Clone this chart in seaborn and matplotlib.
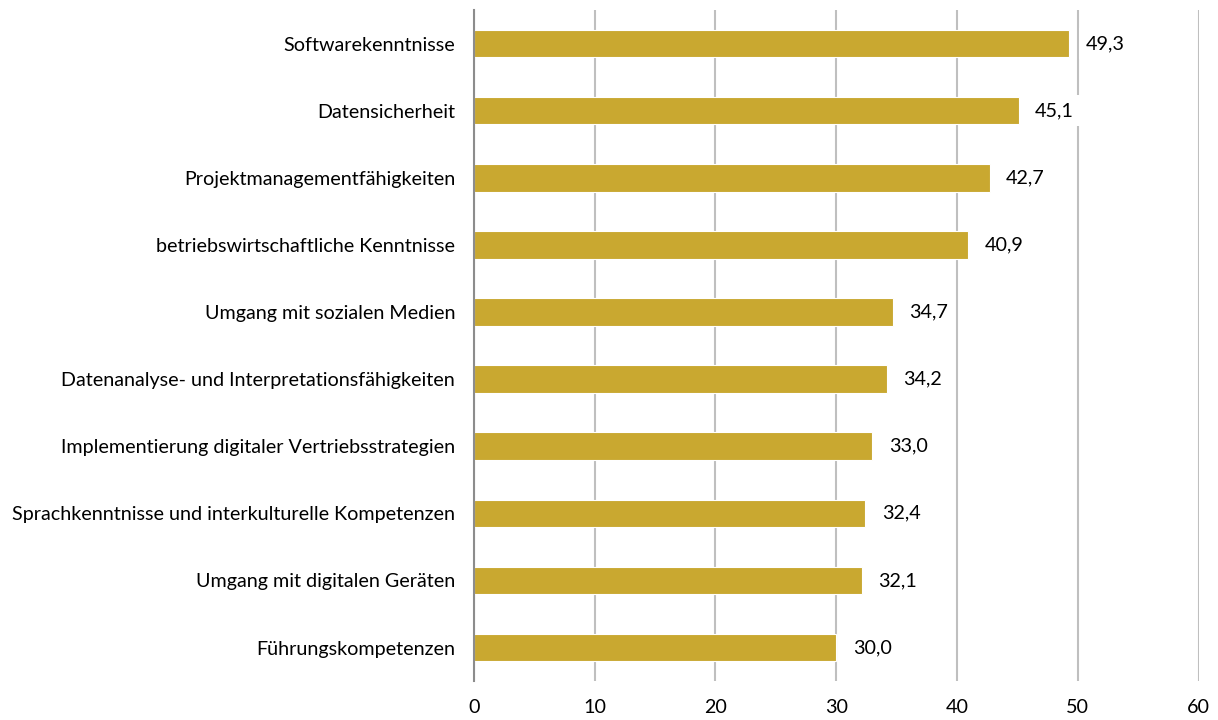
import matplotlib
matplotlib.use("Agg")
from matplotlib import pyplot as plt
import seaborn as sns
import pandas as pd

categories = [
    "Softwarekenntnisse",
    "Datensicherheit",
    "Projektmanagementfähigkeiten",
    "betriebswirtschaftliche Kenntnisse",
    "Umgang mit sozialen Medien",
    "Datenanalyse- und Interpretationsfähigkeiten",
    "Implementierung digitaler Vertriebsstrategien",
    "Sprachkenntnisse und interkulturelle Kompetenzen",
    "Umgang mit digitalen Geräten",
    "Führungskompetenzen",
]
values = [49.3, 45.1, 42.7, 40.9, 34.7, 34.2, 33.0, 32.4, 32.1, 30.0]
x_ticks = [0, 10, 20, 30, 40, 50, 60]

df = pd.DataFrame({"skill": categories, "share": values})

sns.set_theme(style="white")
plt.rcParams["font.family"] = ["Lato", "DejaVu Sans"]

fig = plt.figure(figsize=(12.18, 7.2), dpi=100)
ax = fig.add_axes([0.389, 0.054, 0.595, 0.932])

sns.barplot(data=df, x="share", y="skill", color="#C9A830", saturation=1,
            width=0.41, edgecolor="white", linewidth=0.8, ax=ax, zorder=3)

fs = 14.2
ax.set_xlim(0, 60)
ax.set_xticks(x_ticks)
ax.set_xticklabels([str(t) for t in x_ticks], fontsize=fs, color="#000000")
ax.tick_params(axis="y", labelsize=fs, labelcolor="#000000", pad=13.5, length=0)
ax.tick_params(axis="x", length=0, pad=13)
ax.set_xlabel("")
ax.set_ylabel("")
ax.xaxis.grid(True, color="#BFBFBF", linewidth=1.5, zorder=0)
ax.set_axisbelow(True)
for s in ["top", "right", "bottom"]:
    ax.spines[s].set_visible(False)
ax.spines["left"].set_color("#8C8C8C")
ax.spines["left"].set_linewidth(1.5)
ax.spines["left"].set_zorder(4)

for i, v in enumerate(values):
    ax.annotate(f"{v:.1f}".replace(".", ","), xy=(v, i), xytext=(12, 0),
                textcoords="offset points", va="center", ha="left",
                fontsize=fs, color="#000000", zorder=5,
                bbox=dict(boxstyle="square,pad=0.35", facecolor="white", edgecolor="none"))

fig.savefig("out.png", dpi=100)
